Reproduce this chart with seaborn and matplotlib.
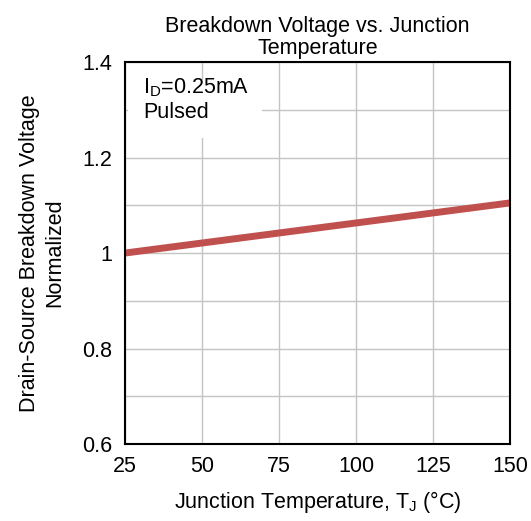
import matplotlib
matplotlib.use("Agg")
import matplotlib.pyplot as plt
import seaborn as sns
import pandas as pd
from matplotlib.patches import Rectangle
from matplotlib.ticker import MultipleLocator

# Data
temperature = [25, 50, 75, 100, 125, 150]
bv_normalized = [1.000, 1.021, 1.042, 1.063, 1.084, 1.105]

x_ticks = [25, 50, 75, 100, 125, 150]
y_ticks = [0.6, 0.8, 1.0, 1.2, 1.4]
y_tick_labels = ["0.6", "0.8", "1", "1.2", "1.4"]

sns.set_style("white")
plt.rcParams["font.family"] = ["Liberation Sans", "DejaVu Sans"]
plt.rcParams["mathtext.fontset"] = "custom"
plt.rcParams["mathtext.rm"] = "Liberation Sans"
plt.rcParams["mathtext.it"] = "Liberation Sans"
plt.rcParams["text.color"] = "black"
plt.rcParams["axes.labelcolor"] = "black"
plt.rcParams["xtick.color"] = "black"
plt.rcParams["ytick.color"] = "black"

FS = 15.5

df = pd.DataFrame({"Tj": temperature, "BV": bv_normalized})

fig = plt.figure(figsize=(5.31, 5.21), dpi=100)
ax = fig.add_axes([0.2354, 0.1478, 0.725, 0.733])

sns.lineplot(data=df, x="Tj", y="BV", ax=ax, color="#C0504D", linewidth=5, zorder=3)

ax.set_xlim(25, 150)
ax.set_ylim(0.6, 1.4)
ax.set_xticks(x_ticks)
ax.set_yticks(y_ticks)
ax.set_yticklabels(y_tick_labels)
ax.yaxis.set_minor_locator(MultipleLocator(0.1))
ax.grid(True, which="both", color="#C4C4C4", linewidth=1.0)
ax.tick_params(axis="both", which="both", length=0, labelsize=FS, pad=9,
               labelcolor="black")

for s in ax.spines.values():
    s.set_color("black")
    s.set_linewidth(1.5)
    s.set_zorder(4)

ax.set_xlabel("Junction Temperature, T$_\\mathrm{J}$ (°C)", fontsize=FS, labelpad=8)
ax.set_ylabel("Drain-Source Breakdown Voltage\nNormalized", fontsize=FS,
              labelpad=12, linespacing=1.3)
ax.set_title("Breakdown Voltage vs. Junction\nTemperature", fontsize=FS, pad=6,
             linespacing=1.05, color="black")

# white panel behind the test-condition note
ax.add_patch(Rectangle((0.008, 0.80), 0.348, 0.153, transform=ax.transAxes,
                       facecolor="white", edgecolor="none", zorder=2.5))
ax.text(0.047, 0.962, "I$_\\mathrm{D}$=0.25mA\nPulsed", transform=ax.transAxes,
        fontsize=FS, va="top", ha="left", linespacing=1.15, zorder=5)

fig.savefig("out.png", dpi=100)
plt.close(fig)
